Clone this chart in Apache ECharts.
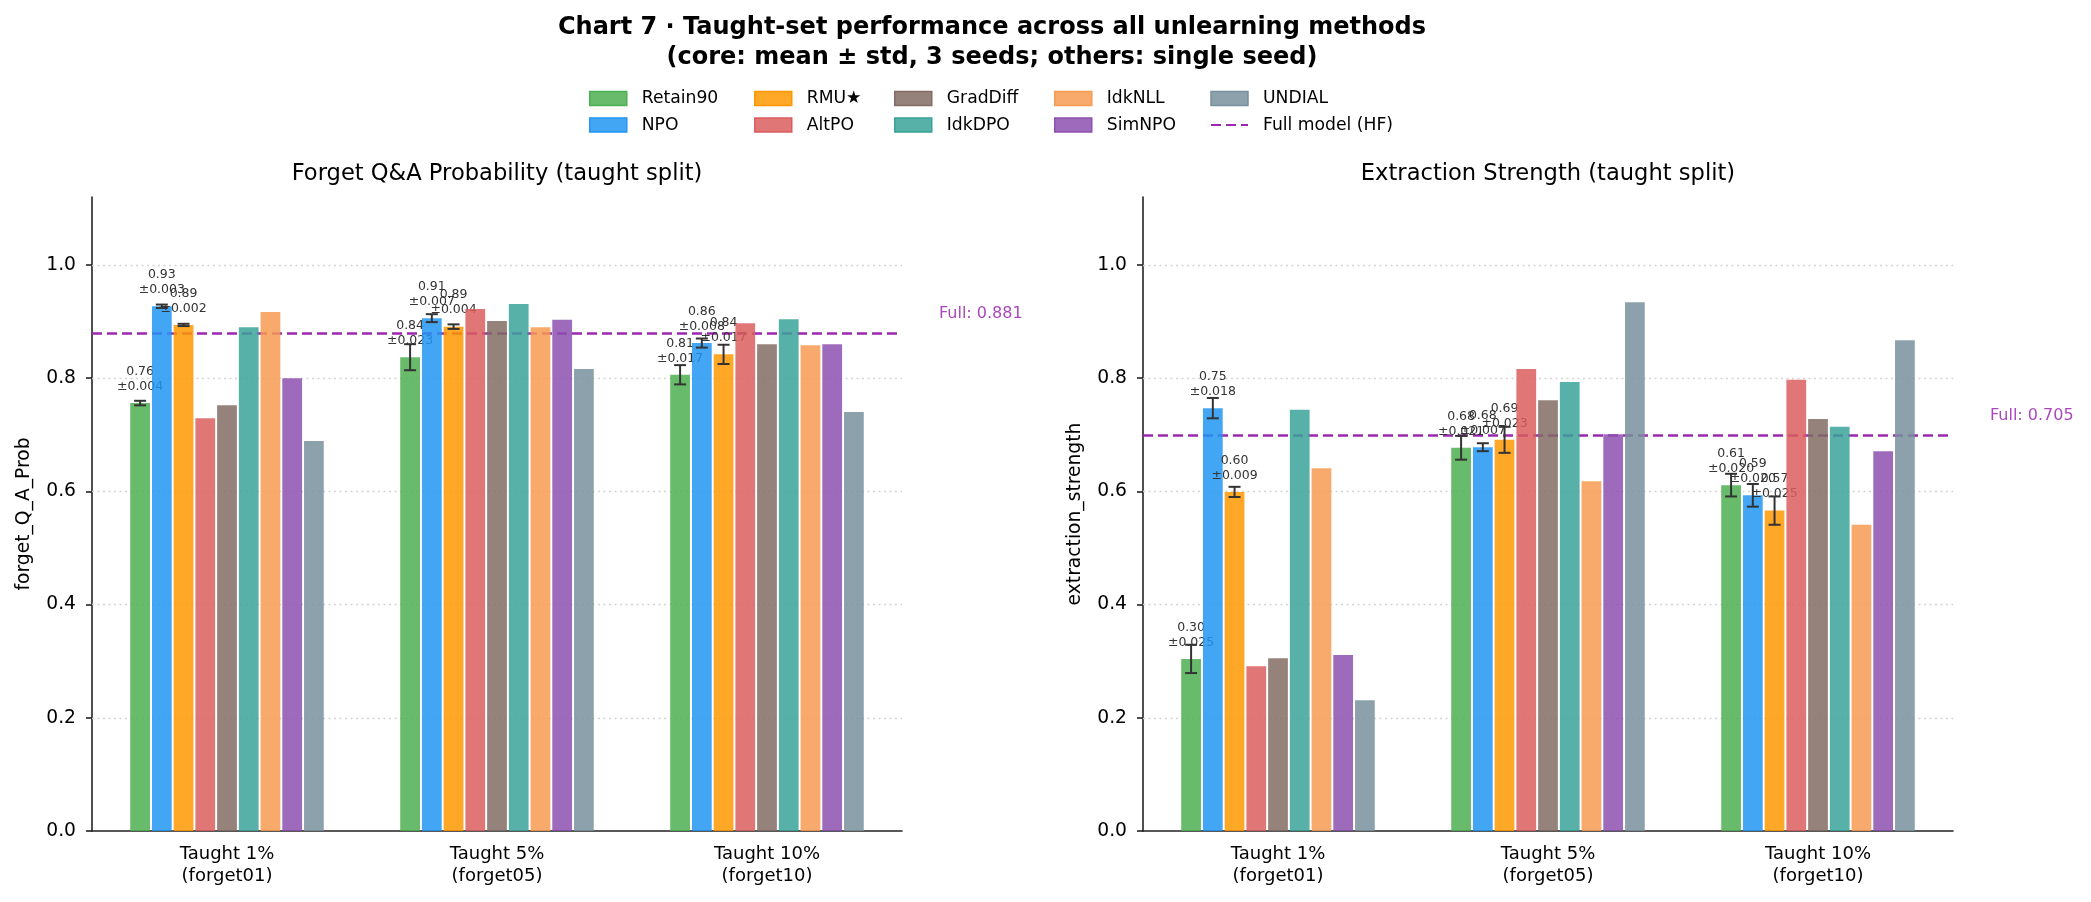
<!DOCTYPE html>
<html>
<head>
<meta charset="utf-8">
<script src="https://cdn.jsdelivr.net/npm/echarts@6/dist/echarts.min.js"></script>
</head>
<body style="margin:0; background:#fff">
<div id="chart" style="width:2091px;height:902px"></div>
<script>
// ---- data ----
var categories = ['Taught 1%\n(forget01)', 'Taught 5%\n(forget05)', 'Taught 10%\n(forget10)'];
var methods = ['Retain90', 'NPO', 'RMU★', 'AltPO', 'GradDiff', 'IdkDPO', 'IdkNLL', 'SimNPO', 'UNDIAL'];
var colors = ['#4CAF50', '#2196F3', '#FF9800', '#DB5E5E', '#826C64', '#39A399', '#F69B51', '#8D51B0', '#78909C'];
var yTicks = [0, 0.2, 0.4, 0.6, 0.8, 1.0];

// forget_Q_A_Prob, one array per split, in method order
var probForget01 = [0.756, 0.927, 0.894, 0.729, 0.752, 0.890, 0.917, 0.800, 0.689];
var probForget05 = [0.837, 0.906, 0.891, 0.922, 0.901, 0.931, 0.890, 0.903, 0.816];
var probForget10 = [0.806, 0.862, 0.842, 0.897, 0.860, 0.904, 0.858, 0.860, 0.740];
// std for the core methods (Retain90, NPO, RMU)
var probStd01 = [0.004, 0.003, 0.002];
var probStd05 = [0.023, 0.007, 0.004];
var probStd10 = [0.017, 0.008, 0.017];
var probFull = 0.881;

// extraction_strength
var esForget01 = [0.304, 0.747, 0.599, 0.291, 0.305, 0.744, 0.641, 0.311, 0.231];
var esForget05 = [0.677, 0.678, 0.691, 0.816, 0.761, 0.793, 0.618, 0.701, 0.934];
var esForget10 = [0.611, 0.593, 0.566, 0.797, 0.728, 0.714, 0.541, 0.671, 0.867];
var esStd01 = [0.025, 0.018, 0.009];
var esStd05 = [0.021, 0.007, 0.023];
var esStd10 = [0.020, 0.020, 0.025];
var esFull = 0.705;

var CORE = 3;
var FONT = 'DejaVu Sans';
var BAR_W = 19.75;
var BAR_GAP = 0.1;          // fraction of bar width
var PITCH = BAR_W * (1 + BAR_GAP);
var FULL_COLOR = '#9C27B0';

function rgba(hex, a) {
    var n = parseInt(hex.slice(1), 16);
    return 'rgba(' + (n >> 16) + ',' + ((n >> 8) & 255) + ',' + (n & 255) + ',' + a + ')';
}

var chart = echarts.init(document.getElementById('chart'));

var panels = [
    {vals: [probForget01, probForget05, probForget10], std: [probStd01, probStd05, probStd10],
     full: probFull, name: 'forget_Q_A_Prob', title: 'Forget Q&A Probability (taught split)', left: 92},
    {vals: [esForget01, esForget05, esForget10], std: [esStd01, esStd05, esStd10],
     full: esFull, name: 'extraction_strength', title: 'Extraction Strength (taught split)', left: 1143}
];

function barX(api, cat, m) {
    return api.coord([cat, 0])[0] + (m - (methods.length - 1) / 2) * PITCH;
}

function renderError(params, api) {
    var cat = api.value(0), mean = api.value(1), sd = api.value(2), m = api.value(3);
    var x = barX(api, cat, m);
    var y1 = api.coord([cat, mean + sd])[1];
    var y2 = api.coord([cat, mean - sd])[1];
    var st = {stroke: '#333', lineWidth: 2};
    return {type: 'group', children: [
        {type: 'line', shape: {x1: x, y1: y1, x2: x, y2: y2}, style: st},
        {type: 'line', shape: {x1: x - 6, y1: y1, x2: x + 6, y2: y1}, style: st},
        {type: 'line', shape: {x1: x - 6, y1: y2, x2: x + 6, y2: y2}, style: st}
    ]};
}

function renderLabel(params, api) {
    var cat = api.value(0), mean = api.value(1), sd = api.value(2), m = api.value(3);
    var x = barX(api, cat, m);
    var y = api.coord([cat, mean + 0.021])[1] + 3;
    return {type: 'text', x: x, y: y, style: {
        text: mean.toFixed(2) + '\n±' + sd.toFixed(3),
        fill: '#333', fontSize: 12.5, fontFamily: FONT, lineHeight: 15,
        align: 'center', verticalAlign: 'bottom'
    }};
}

var grids = [], xAxes = [], yAxes = [], series = [];
panels.forEach(function (p, g) {
    grids.push({left: p.left, top: 197, width: 810, height: 634});
    xAxes.push({
        type: 'category', gridIndex: g, data: categories,
        axisLine: {lineStyle: {color: '#222', width: 1.6}},
        axisTick: {alignWithLabel: true, length: 6, lineStyle: {color: '#222', width: 1.6}},
        axisLabel: {fontSize: 18, lineHeight: 22, color: '#000', margin: 12, fontFamily: FONT},
        splitLine: {show: false}
    });
    yAxes.push({
        type: 'value', gridIndex: g, min: 0, max: 1.12, interval: 0.2,
        name: p.name, nameLocation: 'middle', nameGap: 58,
        nameTextStyle: {fontSize: 18.7, color: '#000', fontFamily: FONT},
        axisLine: {show: true, lineStyle: {color: '#222', width: 1.6}},
        axisTick: {show: true, length: 6, customValues: yTicks, lineStyle: {color: '#222', width: 1.6}},
        axisLabel: {fontSize: 18.7, color: '#000', margin: 16, fontFamily: FONT, customValues: yTicks,
            formatter: function (v) { return v.toFixed(1); }},
        splitLine: {show: false}
    });

    // dotted gridlines
    series.push({
        type: 'line', xAxisIndex: g, yAxisIndex: g, data: [], z: 1, silent: true,
        markLine: {silent: true, symbol: 'none', label: {show: false},
            lineStyle: {color: '#d4d4d4', width: 1.3, type: [2, 3.5]},
            data: yTicks.filter(function (v) { return v > 0; }).map(function (v) { return {yAxis: v}; })}
    });

    methods.forEach(function (name, m) {
        series.push({
            name: name, type: 'bar', xAxisIndex: g, yAxisIndex: g,
            data: p.vals.map(function (arr) { return arr[m]; }),
            barWidth: BAR_W, barGap: (BAR_GAP * 100) + '%',
            itemStyle: {color: rgba(colors[m], 0.85)},
            z: 10 + 2 * m, silent: true
        });
        if (m < CORE) {
            var d = p.vals.map(function (arr, c) { return [c, arr[m], p.std[c][m], m]; });
            series.push({type: 'custom', xAxisIndex: g, yAxisIndex: g, data: d,
                encode: {x: 0, y: 1}, renderItem: renderLabel, z: 11 + 2 * m, silent: true});
            series.push({type: 'custom', xAxisIndex: g, yAxisIndex: g, data: d,
                encode: {x: 0, y: 1}, renderItem: renderError, z: 40, silent: true});
        }
    });

    series.push({
        name: 'Full model (HF)', type: 'line', xAxisIndex: g, yAxisIndex: g, data: [],
        symbol: 'none', z: 50,
        lineStyle: {color: FULL_COLOR, width: 2.5, type: [10, 5]},
        itemStyle: {color: FULL_COLOR},
        markLine: {
            silent: true, symbol: 'none',
            lineStyle: {color: FULL_COLOR, width: 2.5, type: [10, 5]},
            label: {show: true, position: 'end', distance: 5, padding: [0, 0, 0, 32],
                formatter: 'Full: ' + p.full.toFixed(3) + '\n ', lineHeight: 38,
                color: rgba(FULL_COLOR, 0.85), fontSize: 16, fontFamily: FONT},
            data: [{yAxis: p.full}]
        }
    });
});

// legend: 5 columns x 2 rows, filled column-first
var legendCols = [
    {left: 589, items: ['Retain90', 'NPO']},
    {left: 754, items: ['RMU★', 'AltPO']},
    {left: 894, items: ['GradDiff', 'IdkDPO']},
    {left: 1054, items: ['IdkNLL', 'SimNPO']},
    {left: 1210, items: ['UNDIAL', 'Full model (HF)']}
];
var legends = legendCols.map(function (col) {
    return {
        orient: 'vertical', left: col.left, top: 88.5, padding: 0, itemGap: 6.6,
        itemWidth: 37, itemHeight: 14, selectedMode: false,
        textStyle: {fontSize: 17.2, color: '#000', fontFamily: FONT, lineHeight: 20, padding: [0, 0, 0, 10]},
        data: col.items.map(function (n) {
            var m = methods.indexOf(n);
            if (m < 0) return {name: n, itemStyle: {opacity: 0}};
            return {name: n, icon: 'rect',
                itemStyle: {color: rgba(colors[m], 0.85), borderColor: colors[m], borderWidth: 1.5}};
        })
    };
});

chart.setOption({
    animation: false,
    textStyle: {fontFamily: FONT},
    title: [
        {text: 'Chart 7 · Taught-set performance across all unlearning methods\n(core: mean ± std, 3 seeds; others: single seed)',
         left: 992, top: 13, padding: 0, textAlign: 'center',
         textStyle: {fontSize: 24, fontWeight: 'bold', lineHeight: 30, color: '#000', fontFamily: FONT}},
        {text: panels[0].title, left: 497, top: 162.5, padding: 0, textAlign: 'center',
         textStyle: {fontSize: 22.6, fontWeight: 'normal', color: '#000', fontFamily: FONT}},
        {text: panels[1].title, left: 1548, top: 162.5, padding: 0, textAlign: 'center',
         textStyle: {fontSize: 22.6, fontWeight: 'normal', color: '#000', fontFamily: FONT}}
    ],
    legend: legends,
    grid: grids,
    xAxis: xAxes,
    yAxis: yAxes,
    series: series
});
</script>
</body>
</html>
